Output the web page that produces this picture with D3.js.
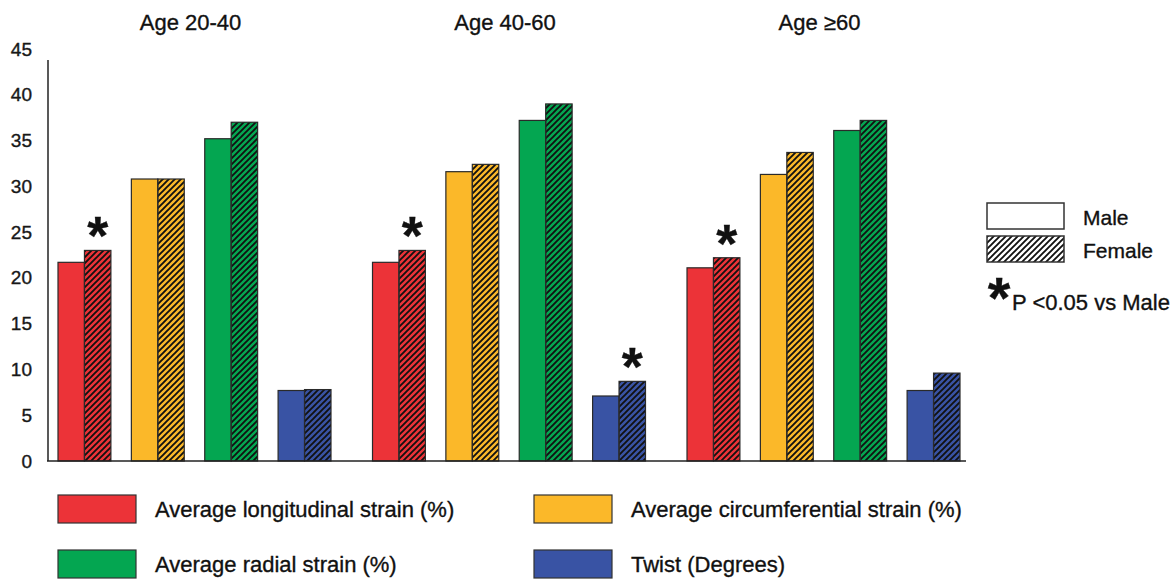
<!DOCTYPE html>
<html>
<head>
<meta charset="utf-8">
<script src="https://cdn.jsdelivr.net/npm/d3@7"></script>
<style>
  html, body { margin: 0; padding: 0; background: #fff; }
  svg { display: block; font-family: "Liberation Sans", Arial, Helvetica, sans-serif; }
  svg text { stroke: #111; stroke-width: 0.35px; }
</style>
</head>
<body>
<svg id="chart" width="1173" height="579"></svg>
<script>
// ---- data ----
const groups = ["Age 20-40", "Age 40-60", "Age \u226560"];
const metrics = [
  "Average longitudinal strain (%)",
  "Average circumferential strain (%)",
  "Average radial strain (%)",
  "Twist (Degrees)"
];
const metricColors = ["#ec3338", "#fbb829", "#04a651", "#3953a4"];
const sexes = ["Male", "Female"];
// rows = age groups, columns = metrics
const maleValues = [
  [21.7, 30.8, 35.2, 7.7],
  [21.7, 31.6, 37.2, 7.1],
  [21.1, 31.3, 36.1, 7.7]
];
const femaleValues = [
  [23.0, 30.8, 37.0, 7.8],
  [23.0, 32.4, 39.0, 8.7],
  [22.2, 33.7, 37.2, 9.6]
];
// female bars marked significant: [group index, metric index]
const significant = [[0, 0], [1, 0], [1, 3], [2, 0]];
const yTicks = [0, 5, 10, 15, 20, 25, 30, 35, 40, 45];
const sigNote = "P <0.05 vs Male";

// ---- build ----
const svg = d3.select("#chart");
svg.append("rect").attr("width", 1173).attr("height", 579).attr("fill", "#fff");

const defs = svg.append("defs");
const pat = defs.append("pattern")
  .attr("id", "hatch").attr("patternUnits", "userSpaceOnUse")
  .attr("width", 6).attr("height", 6);
pat.append("path")
  .attr("d", "M-1,1 l2,-2 M0,6 l6,-6 M5,7 l2,-2")
  .attr("stroke", "#111").attr("stroke-width", 1.9);

const y = d3.scaleLinear().domain([0, 45]).range([461, 49]);
const xGroup = d3.scaleBand().domain(groups).range([58, 960]).paddingInner(0.132).paddingOuter(0);
const xMetric = d3.scaleBand().domain(metrics).range([0, xGroup.bandwidth()]).paddingInner(0.279).paddingOuter(0);
const xSex = d3.scaleBand().domain(sexes).range([0, xMetric.bandwidth()]);

// y axis labels
const yAxis = d3.axisLeft(y).tickValues(yTicks).tickSize(0).tickPadding(16);
const gy = svg.append("g").attr("transform", "translate(48,0)").call(yAxis);
gy.select(".domain").remove();
gy.selectAll("text").attr("font-size", 19).attr("fill", "#1a1a1a")
  .attr("font-family", "'Liberation Sans', Arial, sans-serif");

// rows of bar data
const bars = [];
groups.forEach((g, gi) => {
  metrics.forEach((m, mi) => {
    bars.push({g, gi, m, mi, sex: "Male", v: maleValues[gi][mi]});
    bars.push({g, gi, m, mi, sex: "Female", v: femaleValues[gi][mi]});
  });
});
const bx = d => xGroup(d.g) + xMetric(d.m) + xSex(d.sex);

const gb = svg.append("g");
gb.selectAll("rect.fill").data(bars).join("rect")
  .attr("class", "fill")
  .attr("x", bx).attr("width", xSex.bandwidth())
  .attr("y", d => y(d.v)).attr("height", d => y(0) - y(d.v))
  .attr("fill", d => metricColors[d.mi]);
gb.selectAll("rect.hatch").data(bars.filter(d => d.sex === "Female")).join("rect")
  .attr("class", "hatch")
  .attr("x", bx).attr("width", xSex.bandwidth())
  .attr("y", d => y(d.v)).attr("height", d => y(0) - y(d.v))
  .attr("fill", "url(#hatch)");
gb.selectAll("rect.outline").data(bars).join("rect")
  .attr("class", "outline")
  .attr("x", bx).attr("width", xSex.bandwidth())
  .attr("y", d => y(d.v)).attr("height", d => y(0) - y(d.v))
  .attr("fill", "none").attr("stroke", "#2a2a2a").attr("stroke-width", 1.2);

// axis lines
svg.append("line").attr("x1", 48).attr("x2", 48).attr("y1", y(0)).attr("y2", 60)
  .attr("stroke", "#222").attr("stroke-width", 1.5);
svg.append("line").attr("x1", 47).attr("x2", 966).attr("y1", y(0)).attr("y2", y(0))
  .attr("stroke", "#222").attr("stroke-width", 1.5);

// significance asterisks
svg.append("g").selectAll("text").data(significant).join("text")
  .attr("x", d => xGroup(groups[d[0]]) + xMetric(metrics[d[1]]) + xSex("Female") + xSex.bandwidth() / 2)
  .attr("y", d => y(femaleValues[d[0]][d[1]]) + 4)
  .attr("text-anchor", "middle")
  .attr("font-size", 54).attr("font-weight", "bold").attr("fill", "#111")
  .text("*");

// group titles
svg.append("g").selectAll("text").data(groups).join("text")
  .attr("x", d => xGroup(d) + xGroup.bandwidth() / 2 - 4)
  .attr("y", 30)
  .attr("text-anchor", "middle")
  .attr("font-size", 22).attr("fill", "#111")
  .text(d => d);

// right legend (sex)
const rl = svg.append("g");
sexes.forEach((s, i) => {
  const yy = 203 + i * 33;
  rl.append("rect").attr("x", 987).attr("y", yy).attr("width", 77).attr("height", 26)
    .attr("fill", s === "Female" ? "url(#hatch)" : "#fff")
    .attr("stroke", "#333").attr("stroke-width", 1.5);
  rl.append("text").attr("x", 1083).attr("y", yy + 22).attr("font-size", 21).attr("fill", "#111").text(s);
});
rl.append("text").attr("x", 999).attr("y", 318).attr("text-anchor", "middle")
  .attr("font-size", 58).attr("font-weight", "bold").attr("fill", "#111").text("*");
rl.append("text").attr("x", 1012).attr("y", 310).attr("font-size", 22).attr("fill", "#111").text(sigNote);

// bottom legend (metrics)
const bl = svg.append("g");
metrics.forEach((m, i) => {
  const col = i % 2, row = Math.floor(i / 2);
  const bx0 = col === 0 ? 58 : 534;
  const by0 = 495 + row * 55;
  bl.append("rect").attr("x", bx0).attr("y", by0).attr("width", 78).attr("height", 28)
    .attr("fill", metricColors[i]).attr("stroke", "#333").attr("stroke-width", 1.2);
  bl.append("text").attr("x", bx0 + 97).attr("y", by0 + 22)
    .attr("font-size", 22).attr("fill", "#111").text(m);
});
</script>
</body>
</html>
